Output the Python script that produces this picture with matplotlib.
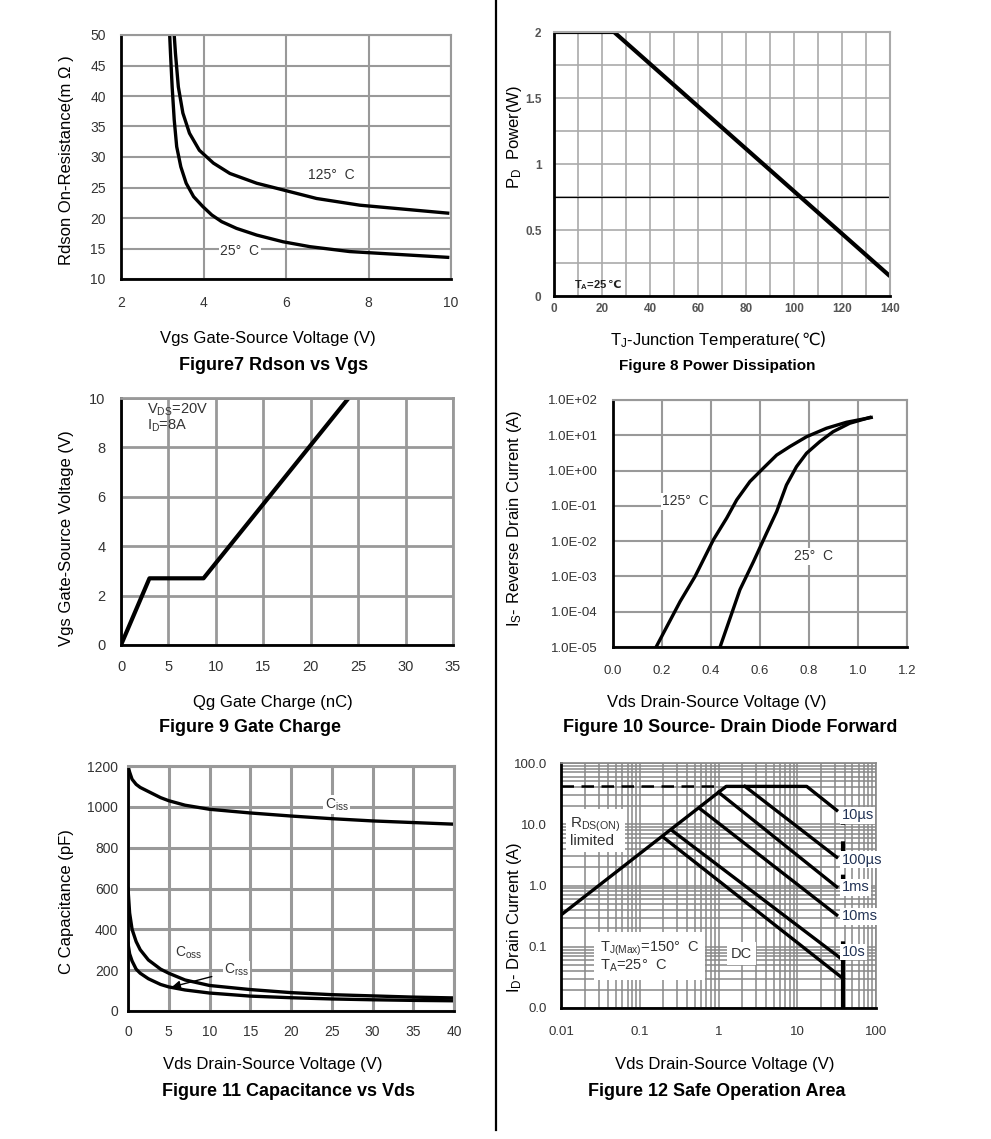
import matplotlib
matplotlib.use("Agg")
import matplotlib.pyplot as plt
from matplotlib.lines import Line2D
import numpy as np

plt.rcParams['font.family'] = ['Liberation Sans', 'DejaVu Sans', 'Noto Sans CJK SC']
plt.rcParams['mathtext.fontset'] = 'custom'
plt.rcParams['mathtext.rm'] = 'Liberation Sans'
plt.rcParams['mathtext.it'] = 'Liberation Sans:italic'
plt.rcParams['mathtext.bf'] = 'Liberation Sans:bold'

W, H = 991, 1139

# ---- Figure 7: Rdson vs Vgs
vgs_25 = [3.18, 3.20, 3.24, 3.29, 3.35, 3.45, 3.58, 3.76, 3.98, 4.2, 4.44, 4.8, 5.29,
          5.93, 6.58, 7.54, 9.92]
rds_25 = [50, 47, 41.5, 36.1, 31.7, 28.4, 25.7, 23.5, 21.9, 20.5, 19.4, 18.3, 17.2,
          16.1, 15.3, 14.5, 13.55]
vgs_125 = [3.29, 3.32, 3.39, 3.5, 3.66, 3.9, 4.24, 4.64, 5.29, 5.93, 6.74, 7.79, 9.92]
rds_125 = [50, 47, 41.5, 37.2, 33.9, 31.1, 29.0, 27.3, 25.7, 24.6, 23.2, 22.1, 20.8]

# ---- Figure 8: power dissipation
tj = [0, 25, 140]
pd_w = [2.0, 2.0, 0.15]

# ---- Figure 9: gate charge
qg = [0, 3, 8.7, 24]
vgs_qg = [0, 2.7, 2.7, 10]

# ---- Figure 10: body diode forward
vsd_125 = [0.176, 0.22, 0.274, 0.335, 0.41, 0.464, 0.505, 0.559, 0.613, 0.668, 0.722,
           0.79, 0.871, 0.953, 1.054]
is_125 = [1e-5, 3.8e-5, 1.95e-4, 1e-3, 1.1e-2, 4.5e-2, 0.148, 0.49, 1.16, 2.75, 4.8,
          9.1, 15.8, 23.4, 32]
vsd_25 = [0.437, 0.478, 0.518, 0.573, 0.627, 0.668, 0.708, 0.749, 0.79, 0.844, 0.898,
          0.966, 1.048]
is_25 = [1e-5, 6.6e-5, 4.2e-4, 2.6e-3, 1.7e-2, 6.9e-2, 0.39, 1.29, 3.1, 6.6, 12.6,
         21.9, 32]

# ---- Figure 11: capacitance
vds_c = [0, 0.2, 0.5, 1, 1.5, 2.5, 4, 5, 7, 10, 15, 20, 25, 30, 35, 40]
ciss = [1200, 1170, 1135, 1110, 1095, 1075, 1045, 1030, 1008, 988, 970, 955, 942, 931, 923, 915]
coss = [600, 480, 400, 340, 300, 250, 205, 185, 152, 125, 105, 90, 80, 74, 68, 64]
crss = [330, 280, 245, 205, 185, 158, 130, 118, 103, 88, 73, 65, 59, 55, 52, 50]

# ---- Figure 12: SOA
soa_lines = {
    'rds':   ([0.01, 1.25, 13.2, 31.7], [0.33, 41.5, 41.5, 16.9]),
    '100us': ([2.17, 31.7], [41.5, 2.9]),
    '1ms':   ([1.0, 31.7], [33.3, 0.95]),
    '10ms':  ([0.58, 31.7], [18.0, 0.33]),
    '10s':   ([0.254, 38.5], [8.0, 0.06]),
    'DC':    ([0.2, 38.5], [6.1, 0.03]),
}
soa_labels = ['10µs', '100µs', '1ms', '10ms', '10s']
soa_label_y = [14, 2.64, 0.93, 0.316, 0.082]
bv = 38.5

fig = plt.figure(figsize=(W / 100, H / 100), dpi=100)


def place(l, r, t, b):
    return fig.add_axes([l / W, 1 - b / H, (r - l) / W, (b - t) / H])


def style(ax, gc='#999999', glw=1.5):
    ax.set_axisbelow(True)
    for s in ['top', 'right']:
        ax.spines[s].set_color(gc)
        ax.spines[s].set_linewidth(glw)
    for s in ['left', 'bottom']:
        ax.spines[s].set_color('black')
        ax.spines[s].set_linewidth(2)
    ax.tick_params(length=0, labelsize=10, labelcolor='#333333')


def ftext(x, y, s, **kw):
    kw.setdefault('ha', 'center')
    return fig.text(x / W, 1 - y / H, s, va='center', **kw)


lw = 2.4
white = dict(facecolor='white', edgecolor='none', pad=1)

# Figure 7
ax = place(121, 451, 35, 279)
style(ax)
ax.plot(vgs_25, rds_25, color='black', lw=lw)
ax.plot(vgs_125, rds_125, color='black', lw=lw)
ax.set_xlim(2, 10)
ax.set_ylim(10, 50)
ax.set_xticks([2, 4, 6, 8, 10])
ax.set_yticks(range(10, 51, 5))
ax.grid(True, color='#999999', lw=1.5)
ax.tick_params(axis='y', pad=11)
ax.tick_params(axis='x', pad=12)
ax.text(7.1, 27.0, '125°  C', ha='center', va='center', fontsize=10, color='#333333', bbox=white)
ax.text(4.88, 14.6, '25°  C', ha='center', va='center', fontsize=10, color='#333333', bbox=white)
ftext(268, 339, 'Vgs Gate-Source Voltage (V)', fontsize=12)
ftext(274, 365, 'Figure7 Rdson vs Vgs', fontsize=13, fontweight='bold')
ftext(66, 160, 'Rdson On-Resistance(m Ω )', fontsize=12, rotation=90)

# Figure 8
ax = place(554, 890, 32, 296)
style(ax, gc='#aaaaaa')
ax.plot(tj, pd_w, color='black', lw=lw + 0.6, solid_capstyle='butt')
ax.set_xlim(0, 140)
ax.set_ylim(0, 2)
ax.set_xticks(range(0, 141, 20))
ax.set_xticks(range(10, 140, 20), minor=True)
ax.set_yticks([0, 0.5, 1, 1.5, 2])
ax.set_yticklabels(['0', '0.5', '1', '1.5', '2'])
ax.set_yticks([0.25, 0.75, 1.25, 1.75], minor=True)
ax.grid(True, which='both', color='#aaaaaa', lw=1.2)
ax.axhline(0.75, color='black', lw=0.9)
ax.tick_params(which='both', length=0, labelsize=8.5, labelcolor='#555555')
for t in ax.get_xticklabels() + ax.get_yticklabels():
    t.set_fontweight('bold')
ax.tick_params(axis='y', pad=9)
ax.tick_params(axis='x', pad=5)
ta = ax.text(8.5, 0.083, 'T$_\\mathbf{A}$=25', ha='left', va='center', fontsize=8,
             fontweight='bold', color='#222222')
ax.annotate('℃', xy=(1, 0.5), xycoords=ta, ha='left', va='center', fontsize=8,
            fontweight='bold', color='#222222', family='DejaVu Sans')
tx = ftext(610, 340, 'T$_\\mathrm{J}$-Junction Temperature(', fontsize=12, ha='left')
fig.add_artist(plt.Annotation('℃)', xy=(1, 0.5), xycoords=tx, ha='left', va='center',
                              fontsize=12, family=['DejaVu Sans']))
ftext(717, 366, 'Figure 8 Power Dissipation', fontsize=11, fontweight='bold')
ftext(515, 137, 'P$_\\mathrm{D}$  Power(W)', fontsize=12, rotation=90)

# Figure 9
ax = place(121, 453, 398, 645)
style(ax, glw=2)
ax.plot(qg, vgs_qg, color='black', lw=lw + 0.6)
ax.set_xlim(0, 35)
ax.set_ylim(0, 10)
ax.set_xticks(range(0, 36, 5))
ax.set_yticks(range(0, 11, 2))
ax.grid(True, color='#999999', lw=2)
ax.tick_params(axis='y', pad=11, labelsize=10.5)
ax.tick_params(axis='x', pad=11, labelsize=10.5)
ax.text(2.7, 9.2, 'V$_\\mathrm{DS}$=20V\nI$_\\mathrm{D}$=8A', ha='left', va='center',
        fontsize=10.5, color='#333333', linespacing=0.9)
ftext(273, 702, 'Qg Gate Charge (nC)', fontsize=12)
ftext(250, 727, 'Figure 9 Gate Charge', fontsize=13, fontweight='bold')
ftext(66, 538, 'Vgs Gate-Source Voltage (V)', fontsize=12, rotation=90)

# Figure 10
ax = place(613, 907, 400, 647)
style(ax)
ax.set_yscale('log')
ax.plot(vsd_125, is_125, color='black', lw=lw)
ax.plot(vsd_25, is_25, color='black', lw=lw)
ax.set_xlim(0, 1.2)
ax.set_ylim(1e-5, 1e2)
ax.set_xticks(np.arange(0, 1.21, 0.2))
ax.set_xticklabels(['0.0', '0.2', '0.4', '0.6', '0.8', '1.0', '1.2'])
ydec = [1e-5, 1e-4, 1e-3, 1e-2, 1e-1, 1e0, 1e1, 1e2]
ax.set_yticks(ydec)
ax.set_yticklabels(['%.1E' % v for v in ydec])
ax.minorticks_off()
ax.grid(True, color='#999999', lw=1.5)
ax.tick_params(axis='y', pad=11, labelsize=9.5)
ax.tick_params(axis='x', pad=13, labelsize=9.5)
ax.text(0.295, 0.133, '125°  C', ha='center', va='center', fontsize=10, color='#333333', bbox=white)
ax.text(0.817, 3.7e-3, '25°  C', ha='center', va='center', fontsize=10, color='#333333', bbox=white)
ftext(717, 702, 'Vds Drain-Source Voltage (V)', fontsize=12)
ftext(730, 727, 'Figure 10 Source- Drain Diode Forward', fontsize=13, fontweight='bold')
ftext(515, 518, 'I$_\\mathrm{S}$- Reverse Drain Current (A)', fontsize=12, rotation=90)

# Figure 11
ax = place(128, 454, 766, 1011)
style(ax, glw=2.2)
ax.plot(vds_c, ciss, color='black', lw=lw)
ax.plot(vds_c, coss, color='black', lw=lw)
ax.plot(vds_c, crss, color='black', lw=lw)
ax.set_xlim(0, 40)
ax.set_ylim(0, 1200)
ax.set_xticks(range(0, 41, 5))
ax.set_yticks(range(0, 1201, 200))
ax.grid(True, color='#999999', lw=2.2)
ax.tick_params(axis='y', pad=7)
ax.tick_params(axis='x', pad=10)
ax.text(25.6, 1010, 'C$_\\mathrm{iss}$', ha='center', va='center', fontsize=10, color='#333333', bbox=white)
ax.text(7.4, 284, 'C$_\\mathrm{oss}$', ha='center', va='center', fontsize=10, color='#333333', bbox=white)
ax.annotate('C$_\\mathrm{rss}$', xy=(5.4, 118), xytext=(13.3, 200), ha='center', va='center',
            fontsize=10, color='#333333', bbox=white,
            arrowprops=dict(arrowstyle='-|>', color='black', lw=1, shrinkA=8, shrinkB=0,
                            mutation_scale=12))
ftext(273, 1065, 'Vds Drain-Source Voltage (V)', fontsize=12)
ftext(289, 1092, 'Figure 11 Capacitance vs Vds', fontsize=13, fontweight='bold')
ftext(66, 902, 'C Capacitance (pF)', fontsize=12, rotation=90)

# Figure 12
ax = place(561, 876, 763, 1008)
style(ax, gc='#888888', glw=1.2)
ax.set_xscale('log')
ax.set_yscale('log')
ax.set_xlim(0.01, 100)
ax.set_ylim(0.01, 100)
ax.grid(True, which='both', color='#888888', lw=1.1)
ax.tick_params(which='both', length=0)
ax.set_xticks([0.01, 0.1, 1, 10, 100])
ax.set_xticklabels(['0.01', '0.1', '1', '10', '100'])
ax.set_yticks([0.01, 0.1, 1, 10, 100])
ax.set_yticklabels(['0.0', '0.1', '1.0', '10.0', '100.0'])
ax.tick_params(axis='y', pad=10, labelsize=9.5)
ax.tick_params(axis='x', pad=13, labelsize=9.5)
for key, (xs, ys) in soa_lines.items():
    ax.plot(xs, ys, color='black', lw=lw)
ax.plot([0.01, 0.9], [41.5, 41.5], color='black', lw=1.8, dashes=(5, 3))
ax.plot([bv, bv], [0.01, 0.065], color='black', lw=lw + 0.6)
ax.plot([bv, bv], [0.065, 17], color='black', lw=lw + 0.6, dashes=(4, 4))
for lab, ly in zip(soa_labels, soa_label_y):
    ax.text(36.5, ly, lab, ha='left', va='center', fontsize=10.5, color='#223355', bbox=white)
ax.text(0.013, 7.5, 'R$_\\mathrm{DS(ON)}$\nlimited', ha='left', va='center', fontsize=11,
        color='#333333', linespacing=0.95, bbox=dict(facecolor='white', edgecolor='none', pad=3))
ax.text(0.031, 0.068, 'T$_\\mathrm{J(Max)}$=150°  C\nT$_\\mathrm{A}$=25°  C', ha='left', va='center',
        fontsize=10.5, color='#333333', linespacing=1.0,
        bbox=dict(facecolor='white', edgecolor='none', pad=4))
ax.text(1.97, 0.077, 'DC', ha='center', va='center', fontsize=10.5, color='#333333',
        bbox=dict(facecolor='white', edgecolor='none', pad=3))
ftext(725, 1065, 'Vds Drain-Source Voltage (V)', fontsize=12)
ftext(717, 1092, 'Figure 12 Safe Operation Area', fontsize=13, fontweight='bold')
ftext(515, 917, 'I$_\\mathrm{D}$- Drain Current (A)', fontsize=12, rotation=90)

# divider between the two columns
fig.add_artist(Line2D([495.7 / W, 495.7 / W], [1 - 1130 / H, 1.0], color='black', lw=1.6))

fig.savefig('out.png', dpi=100)
